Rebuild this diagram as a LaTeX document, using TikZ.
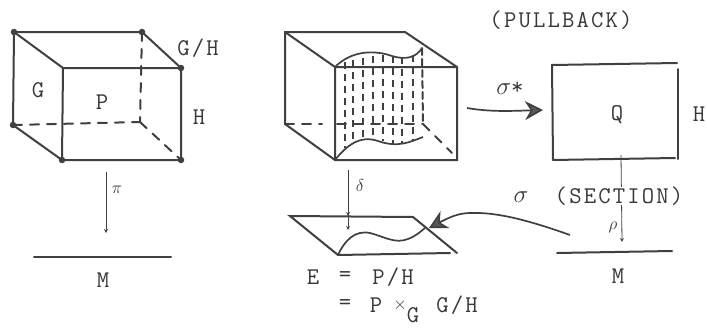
\documentclass[tikz,border=0pt]{standalone}
\usepackage{fontspec}
\usepackage{tikz}
\usetikzlibrary{arrows, arrows.meta}
\setmonofont[LetterSpace=9]{Latin Modern Mono}
\definecolor{inkline}{gray}{0.25}
\definecolor{inktext}{gray}{0.22}
\tikzstyle{edge} = [inkline, line width=2pt, line cap=round]
\tikzstyle{hidden} = [edge, dash pattern=on 9pt off 8pt]
\tikzstyle{hatch} = [inkline, line width=1.6pt, dash pattern=on 7pt off 5pt]
\tikzstyle{sheet} = [inkline, line width=1.7pt]
\tikzstyle{corner} = [circle, fill=inkline, inner sep=0pt, minimum size=6.5pt]
\tikzstyle{lettering} = [inktext, inner sep=0pt, font=\ttfamily\fontsize{24}{24}\selectfont]
\tikzstyle{small} = [inktext, inner sep=0pt, font=\fontsize{17}{17}\selectfont]
\tikzstyle{arrow} = [inkline, line width=0.8pt, ->, >=stealth]
\tikzstyle{bigarrow} = [inkline, line width=1.7pt, -{Stealth[length=18pt, width=19pt, fill=black!65]}]

\begin{document}
\begin{tikzpicture}[x=1pt, y=-1pt]
\useasboundingbox (0,0) rectangle (707,327);
\fill[white] (0,0) rectangle (707,327);
% left box
\coordinate(btl) at (14,32);
\coordinate(btr) at (142,32);
\coordinate(ftl) at (63,68);
\coordinate(ftr) at (181,68);
\coordinate(fbl) at (62,160);
\coordinate(fbr) at (181,160);
\coordinate(bbl) at (13,125);
\coordinate(bbr) at (140,122);
\draw[edge] (bbl) -- (btl) -- (btr) -- (ftr) -- (fbr) -- (fbl) -- (ftl) -- (ftr);
\draw[edge] (btl) -- (ftl);
\draw[edge] (bbl) -- (fbl);
\draw[hidden] (bbl) -- (bbr);
\draw[hidden] (btr) -- (bbr);
\draw[hidden] (bbr) -- (fbr);
\foreach \pos in {btl, btr, ftr, fbl, fbr, bbl}
  \node[corner] at (\pos) {};
\node(lg) [lettering] at (38,90) {G};
\node(lp) [lettering] at (102,102) {P};
\node(lgh) [lettering] at (198,48) {G/H};
\node(lh) [lettering] at (199,117) {H};
% projection to M
\coordinate(pitop) at (106,172);
\coordinate(pibot) at (106,233);
\draw[arrow] (pitop) -- (pibot);
\node(lpi) [small] at (117,190) {$\pi$};
\coordinate(ml) at (34,257);
\coordinate(mr) at (171,257);
\draw[edge] (ml) -- (mr);
\node(lm) [lettering] at (103,280) {M};
% middle box
\coordinate(abtl) at (285,32);
\coordinate(abtr) at (405,32);
\coordinate(aftl) at (335,67);
\coordinate(aftr) at (457,67);
\coordinate(afbl) at (335,160);
\coordinate(afbr) at (457,160);
\coordinate(abbl) at (285,124);
\coordinate(abbr) at (423,124);
\coordinate(agap) at (322,124);
\coordinate(agapb) at (337,124);
\draw[edge] (abbl) -- (abtl) -- (abtr) -- (aftr) -- (afbr) -- (afbl) -- (aftl) -- (aftr);
\draw[edge] (abtl) -- (aftl);
\draw[edge] (abbl) -- (afbl);
\draw[hidden] (abbl) -- (agap);
\draw[hidden] (agapb) -- (abbr);
\draw[hidden] (abbr) -- (452,153);
\coordinate(atop) at (422,48);
\draw[hidden, dash pattern=on 7pt off 4pt] (atop) -- (abbr);
\draw[sheet] (aftl) .. controls (352,50) and (375,50) .. (392,56) .. controls (405,60) and (416,58) .. (atop);
\draw[sheet] (afbl) .. controls (347,145) and (360,135) .. (378,141) .. controls (398,148) and (410,142) .. (423,137);
\foreach \hatchx/\hatchtop/\hatchbot in {345/62/148, 353/60/142, 363/58/140, 373/56/139, 383/55/141,
  393/56/144, 402/57/144, 413/55/141}
  \draw[hatch] (\hatchx,\hatchtop) -- (\hatchx,\hatchbot);
% pullback arrow
\coordinate(sstart) at (467,108);
\coordinate(send) at (543,110);
\draw[bigarrow] (sstart) .. controls (490,112) and (510,111) .. (send);
\node(lsstar) [lettering] at (510,88) {$\sigma$*};
% right box
\coordinate(qtl) at (552,65);
\coordinate(qtr) at (677,63);
\coordinate(qrt) at (678,69);
\coordinate(qrb) at (678,159);
\coordinate(qbr) at (675,158);
\coordinate(qbl) at (553,160);
\draw[edge] (qbl) -- (qtl) -- (qtr);
\draw[edge] (qrt) -- (qrb);
\draw[edge] (qbl) -- (qbr);
\node(lq) [lettering] at (617,115) {Q};
\node(lqh) [lettering] at (699,114) {H};
\coordinate(rhotop) at (621,155);
\coordinate(rhobot) at (622,242);
\draw[arrow] (rhotop) -- (rhobot);
\node(lpull) [lettering] at (561,20) {(PULLBACK)};
\node(lsect) [lettering, fill=white] at (619,196) {(SECTION)};
\node(lsigma) [lettering] at (521,197) {$\sigma$};
\node(lrho) [small] at (613,227) {$\rho$};
\coordinate(mql) at (557,253);
\coordinate(mqr) at (672,251);
\draw[edge] (mql) -- (mqr);
\node(lmq) [lettering] at (618,276) {M};
% section arrow
\coordinate(cstart) at (570,235);
\coordinate(cend) at (429,228);
\draw[bigarrow] (cstart) .. controls (525,219) and (495,212) .. (470,213) .. controls (458,213) and (448,218) .. (cend);
% bundle over M
\coordinate(etl) at (290,216);
\coordinate(etr) at (413,217);
\coordinate(ebr) at (457,253);
\coordinate(ebb) at (450,253);
\coordinate(ebl) at (338,255);
\draw[edge] (ebl) -- (etl) -- (etr) -- (ebr);
\draw[edge] (ebl) -- (ebb);
\draw[sheet] (ebl) .. controls (345,240) and (355,230) .. (370,233) .. controls (385,237) and (395,244) .. (408,239) .. controls (416,236) and (420,232) .. (425,228);
\coordinate(dtop) at (348,170);
\coordinate(dmid) at (348,216);
\coordinate(dbot) at (348,230);
\draw[arrow] (dtop) -- (dmid);
\draw[arrow] (dtop) -- (dbot);
\node(ld) [small] at (360,185) {$\delta$};
\node(le) [lettering] at (313,277) {E};
\node(leq) [lettering] at (345,277) {=};
\node(lph) [lettering] at (393,277) {P/H};
\node(leqb) [lettering] at (345,305) {=};
\node(lpb) [lettering] at (376,305) {P};
\node(ltimes) [small] at (400,305) {$\times$};
\node(lgsub) [lettering] at (413,315) {G};
\node(lghb) [lettering] at (457,305) {G/H};
\end{tikzpicture}
\end{document}
